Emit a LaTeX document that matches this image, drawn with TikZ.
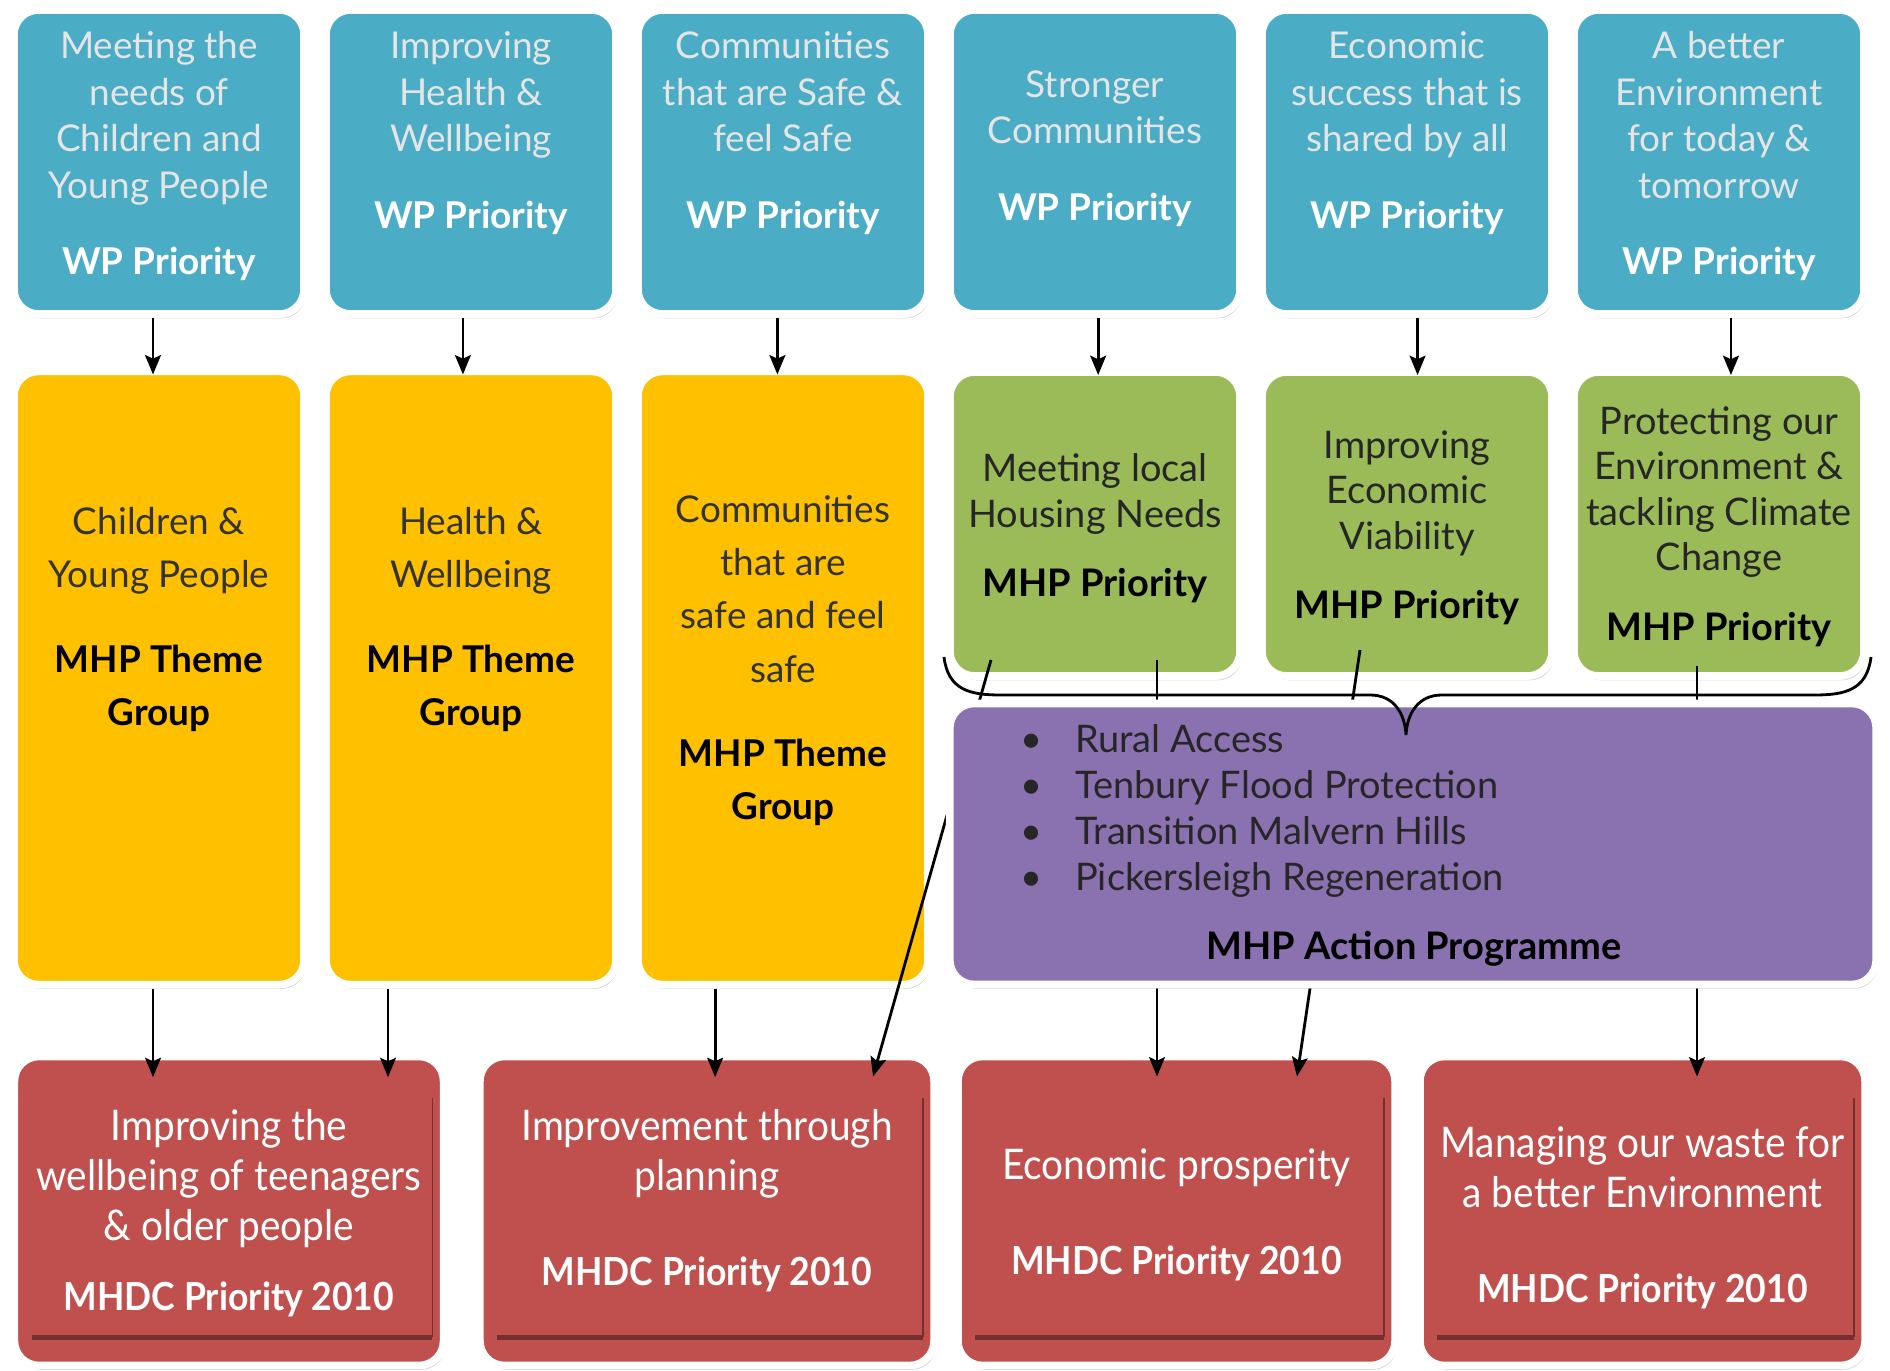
\documentclass[tikz,border=0pt]{standalone}
\usepackage{fontspec}
\setmainfont{Lato}
\newfontfamily\redfont[FakeStretch=0.92]{Lato}
\usetikzlibrary{arrows.meta,calc,shadows}

\definecolor{wpblue}{RGB}{75,172,198}
\definecolor{thmyellow}{RGB}{255,192,0}
\definecolor{mhpgreen}{RGB}{155,187,89}
\definecolor{actpurple}{RGB}{138,114,176}
\definecolor{mhdcred}{RGB}{192,80,77}

\tikzset{
  box/.style={rounded corners=7pt, draw=white, line width=2.2pt, inner sep=0pt,
    drop shadow={shadow xshift=0.6pt, shadow yshift=-1.2pt, opacity=0.35}},
  wpbox/.style={box, fill=wpblue, minimum width=2.90cm, minimum height=3.04cm},
  thmbox/.style={box, fill=thmyellow, minimum width=2.90cm, minimum height=6.13cm},
  mhpbox/.style={box, fill=mhpgreen, minimum width=2.90cm, minimum height=3.04cm},
  actbox/.style={box, fill=actpurple, minimum width=9.26cm, minimum height=2.81cm},
  mhdcbox/.style={box, fill=mhdcred, minimum height=3.09cm},
  wptext/.style={anchor=north, inner sep=0pt, align=center, text=white!90!black,
    font=\fontsize{10.5}{13.2}\selectfont},
  thmtext/.style={anchor=north, inner sep=0pt, align=center, text=black!80,
    font=\fontsize{10.5}{15.1}\selectfont},
  mhptext/.style={anchor=north, inner sep=0pt, align=center, text=black!85,
    font=\fontsize{10.8}{12.9}\selectfont},
  acttext/.style={anchor=north west, inner sep=0pt, align=left, text=black!85,
    font=\fontsize{10.8}{13.1}\selectfont},
  mhdctext/.style={anchor=north, inner sep=0pt, align=center, text=white,
    font=\redfont\fontsize{12}{14.2}\selectfont},
  pageline/.style={draw=mhdcred!60!black, line width=0.4pt},
  arr/.style={draw=black, line width=0.8pt, -{Stealth[length=5.5pt,width=4.5pt,inset=1pt]}},
  link/.style={draw=black, line width=0.8pt}
}

\begin{document}
\begin{tikzpicture}[x=0.01cm,y=-0.01cm]
\useasboundingbox (0,0) rectangle (1890,1371);

% red boxes
\node[mhdcbox, minimum width=4.29cm] (mhdc1) at (229,1211){};
\node[mhdcbox, minimum width=4.54cm] (mhdc2) at (707,1211){};
\node[mhdcbox, minimum width=4.37cm] (mhdc3) at (1176.5,1211){};
\node[mhdcbox, minimum width=4.45cm] (mhdc4) at (1642.5,1211){};
\foreach \n in {1,2,3,4}{
  \draw[pageline, line width=1.6pt] ($(mhdc\n.south west)+(21,-32)$) -- ($(mhdc\n.south east)+(-15,-32)$);
  \draw[pageline] ($(mhdc\n.south east)+(-15,-32)$) -- ($(mhdc\n.north east)+(-15,45)$);
}

% blue WP priorities
\node[wpbox] (wp1) at (159,162){};
\node[wpbox] (wp2) at (471,162){};
\node[wpbox] (wp3) at (783,162){};
\node[wpbox] (wp4) at (1095,162){};
\node[wpbox] (wp5) at (1407,162){};
\node[wpbox] (wp6) at (1719,162){};

% yellow theme groups
\node[thmbox] (thm1) at (159,678){};
\node[thmbox] (thm2) at (471,678){};
\node[thmbox] (thm3) at (783,678){};

% green MHP priorities
\node[mhpbox] (mhp1) at (1095,524){};
\node[mhpbox] (mhp2) at (1407,524){};
\node[mhpbox] (mhp3) at (1719,524){};

% texts
\node[wptext] (wp1t) at (159,31){Meeting the\\needs of\\Children and\\Young People\\[8.6pt]\textbf{\color{white}WP Priority}};
\node[wptext] (wp2t) at (471,31){Improving\\Health \&\\Wellbeing\\[8.6pt]\textbf{\color{white}WP Priority}};
\node[wptext] (wp3t) at (783,31){Communities\\that are Safe \&\\feel Safe\\[8.6pt]\textbf{\color{white}WP Priority}};
\node[wptext] (wp4t) at (1095,70){Stronger\\Communities\\[8.6pt]\textbf{\color{white}WP Priority}};
\node[wptext] (wp5t) at (1407,31){Economic\\success that is\\shared by all\\[8.6pt]\textbf{\color{white}WP Priority}};
\node[wptext] (wp6t) at (1719,31){A better\\Environment\\for today \&\\tomorrow\\[8.6pt]\textbf{\color{white}WP Priority}};

\node[thmtext] (thm1t) at (159,507){Children \&\\Young People\\[8.9pt]\textbf{\color{black}MHP Theme}\\\textbf{\color{black}Group}};
\node[thmtext] (thm2t) at (471,507){Health \&\\Wellbeing\\[8.9pt]\textbf{\color{black}MHP Theme}\\\textbf{\color{black}Group}};
\node[thmtext] (thm3t) at (783,495){Communities\\that are\\safe and feel\\safe\\[8.9pt]\textbf{\color{black}MHP Theme}\\\textbf{\color{black}Group}};

\node[mhptext] (mhp1t) at (1095,453){Meeting local\\Housing Needs\\[6.9pt]\textbf{\color{black}MHP Priority}};
\node[mhptext] (mhp2t) at (1407,430){Improving\\Economic\\Viability\\[6.9pt]\textbf{\color{black}MHP Priority}};
\node[mhptext] (mhp3t) at (1719,406){Protecting our\\Environment \&\\tackling Climate\\Change\\[6.9pt]\textbf{\color{black}MHP Priority}};

\node[mhdctext] (mhdc1t) at (229,1109){Improving the\\wellbeing of teenagers\\\& older people\\[5.7pt]\fontsize{11}{14.2}\selectfont\textbf{MHDC Priority 2010}};
\node[mhdctext] (mhdc2t) at (707,1109){Improvement through\\planning\\[12.7pt]\fontsize{11}{14.2}\selectfont\textbf{MHDC Priority 2010}};
\node[mhdctext] (mhdc3t) at (1176.5,1148){Economic prosperity\\[12.7pt]\fontsize{11}{14.2}\selectfont\textbf{MHDC Priority 2010}};
\node[mhdctext] (mhdc4t) at (1642.5,1126){Managing our waste for\\a better Environment\\[12.7pt]\fontsize{11}{14.2}\selectfont\textbf{MHDC Priority 2010}};

% arrows from WP priorities
\draw[arr, shorten >=-2pt] ([xshift=-1.7pt]wp1.south) -- ([xshift=-1.7pt]thm1.north);
\draw[arr, shorten >=-2pt] ([xshift=-2.3pt]wp2.south) -- ([xshift=-2.3pt]thm2.north);
\draw[arr, shorten >=-2pt] ([xshift=-1.6pt]wp3.south) -- ([xshift=-1.6pt]thm3.north);
\draw[arr, shorten >=-2pt] ([xshift=0.9pt]wp4.south) -- ([xshift=0.9pt]mhp1.north);
\draw[arr, shorten >=-2pt] ([xshift=3pt]wp5.south) -- ([xshift=3pt]mhp2.north);
\draw[arr, shorten >=-2pt] ([xshift=3.4pt]wp6.south) -- ([xshift=3.4pt]mhp3.north);

% arrows to MHDC priorities
\draw[arr, shorten >=-7pt] ([xshift=-1.7pt]thm1.south) -- ([xshift=-1.7pt]thm1.south |- mhdc1.north);
\draw[arr, shorten >=-7pt] ([xshift=-23.6pt]thm2.south) -- ([xshift=-23.6pt]thm2.south |- mhdc1.north);
\draw[arr, shorten >=-7pt] ([xshift=-19.3pt]thm3.south) -- ([xshift=-19.3pt]thm3.south |- mhdc2.north);
\draw[arr] ($(mhp1.south)+(-104,-20)$) -- ($(mhdc2.north)+(166,24)$);
\draw[arr] ($(mhp1.south)+(62,-20)$) -- ($(mhdc3.north)+(-19.5,24)$);
\draw[arr] ($(mhp2.south)+(-47,-30)$) -- ($(mhdc3.north)+(120.5,24)$);
\draw[arr] ($(mhp3.south)+(-22,-14)$) -- ($(mhdc4.north)+(54.5,24)$);

% action programme
\node[actbox] (act) at (1413,844){};
\node[acttext] (actl) at (1020,724){\makebox[15.5pt][l]{\textbullet}Rural Access\\
  \makebox[15.5pt][l]{\textbullet}Tenbury Flood Protection\\
  \makebox[15.5pt][l]{\textbullet}Transition Malvern Hills\\
  \makebox[15.5pt][l]{\textbullet}Pickersleigh Regeneration};
\node[acttext, anchor=north, text=black] (actt) at (1414,931){\textbf{MHP Action Programme}};

% brace
\coordinate (brl) at (944,657);
\coordinate (brt) at (1406,735);
\coordinate (brr) at (1871,657);
\draw[link] (brl) .. controls (948,690) and (970,695) .. (1000,695) -- (1370,695)
  .. controls (1395,695) and (1405,715) .. (brt)
  .. controls (1407,715) and (1417,695) .. (1442,695) -- (1815,695)
  .. controls (1845,695) and (1867,690) .. (brr);
\end{tikzpicture}
\end{document}
